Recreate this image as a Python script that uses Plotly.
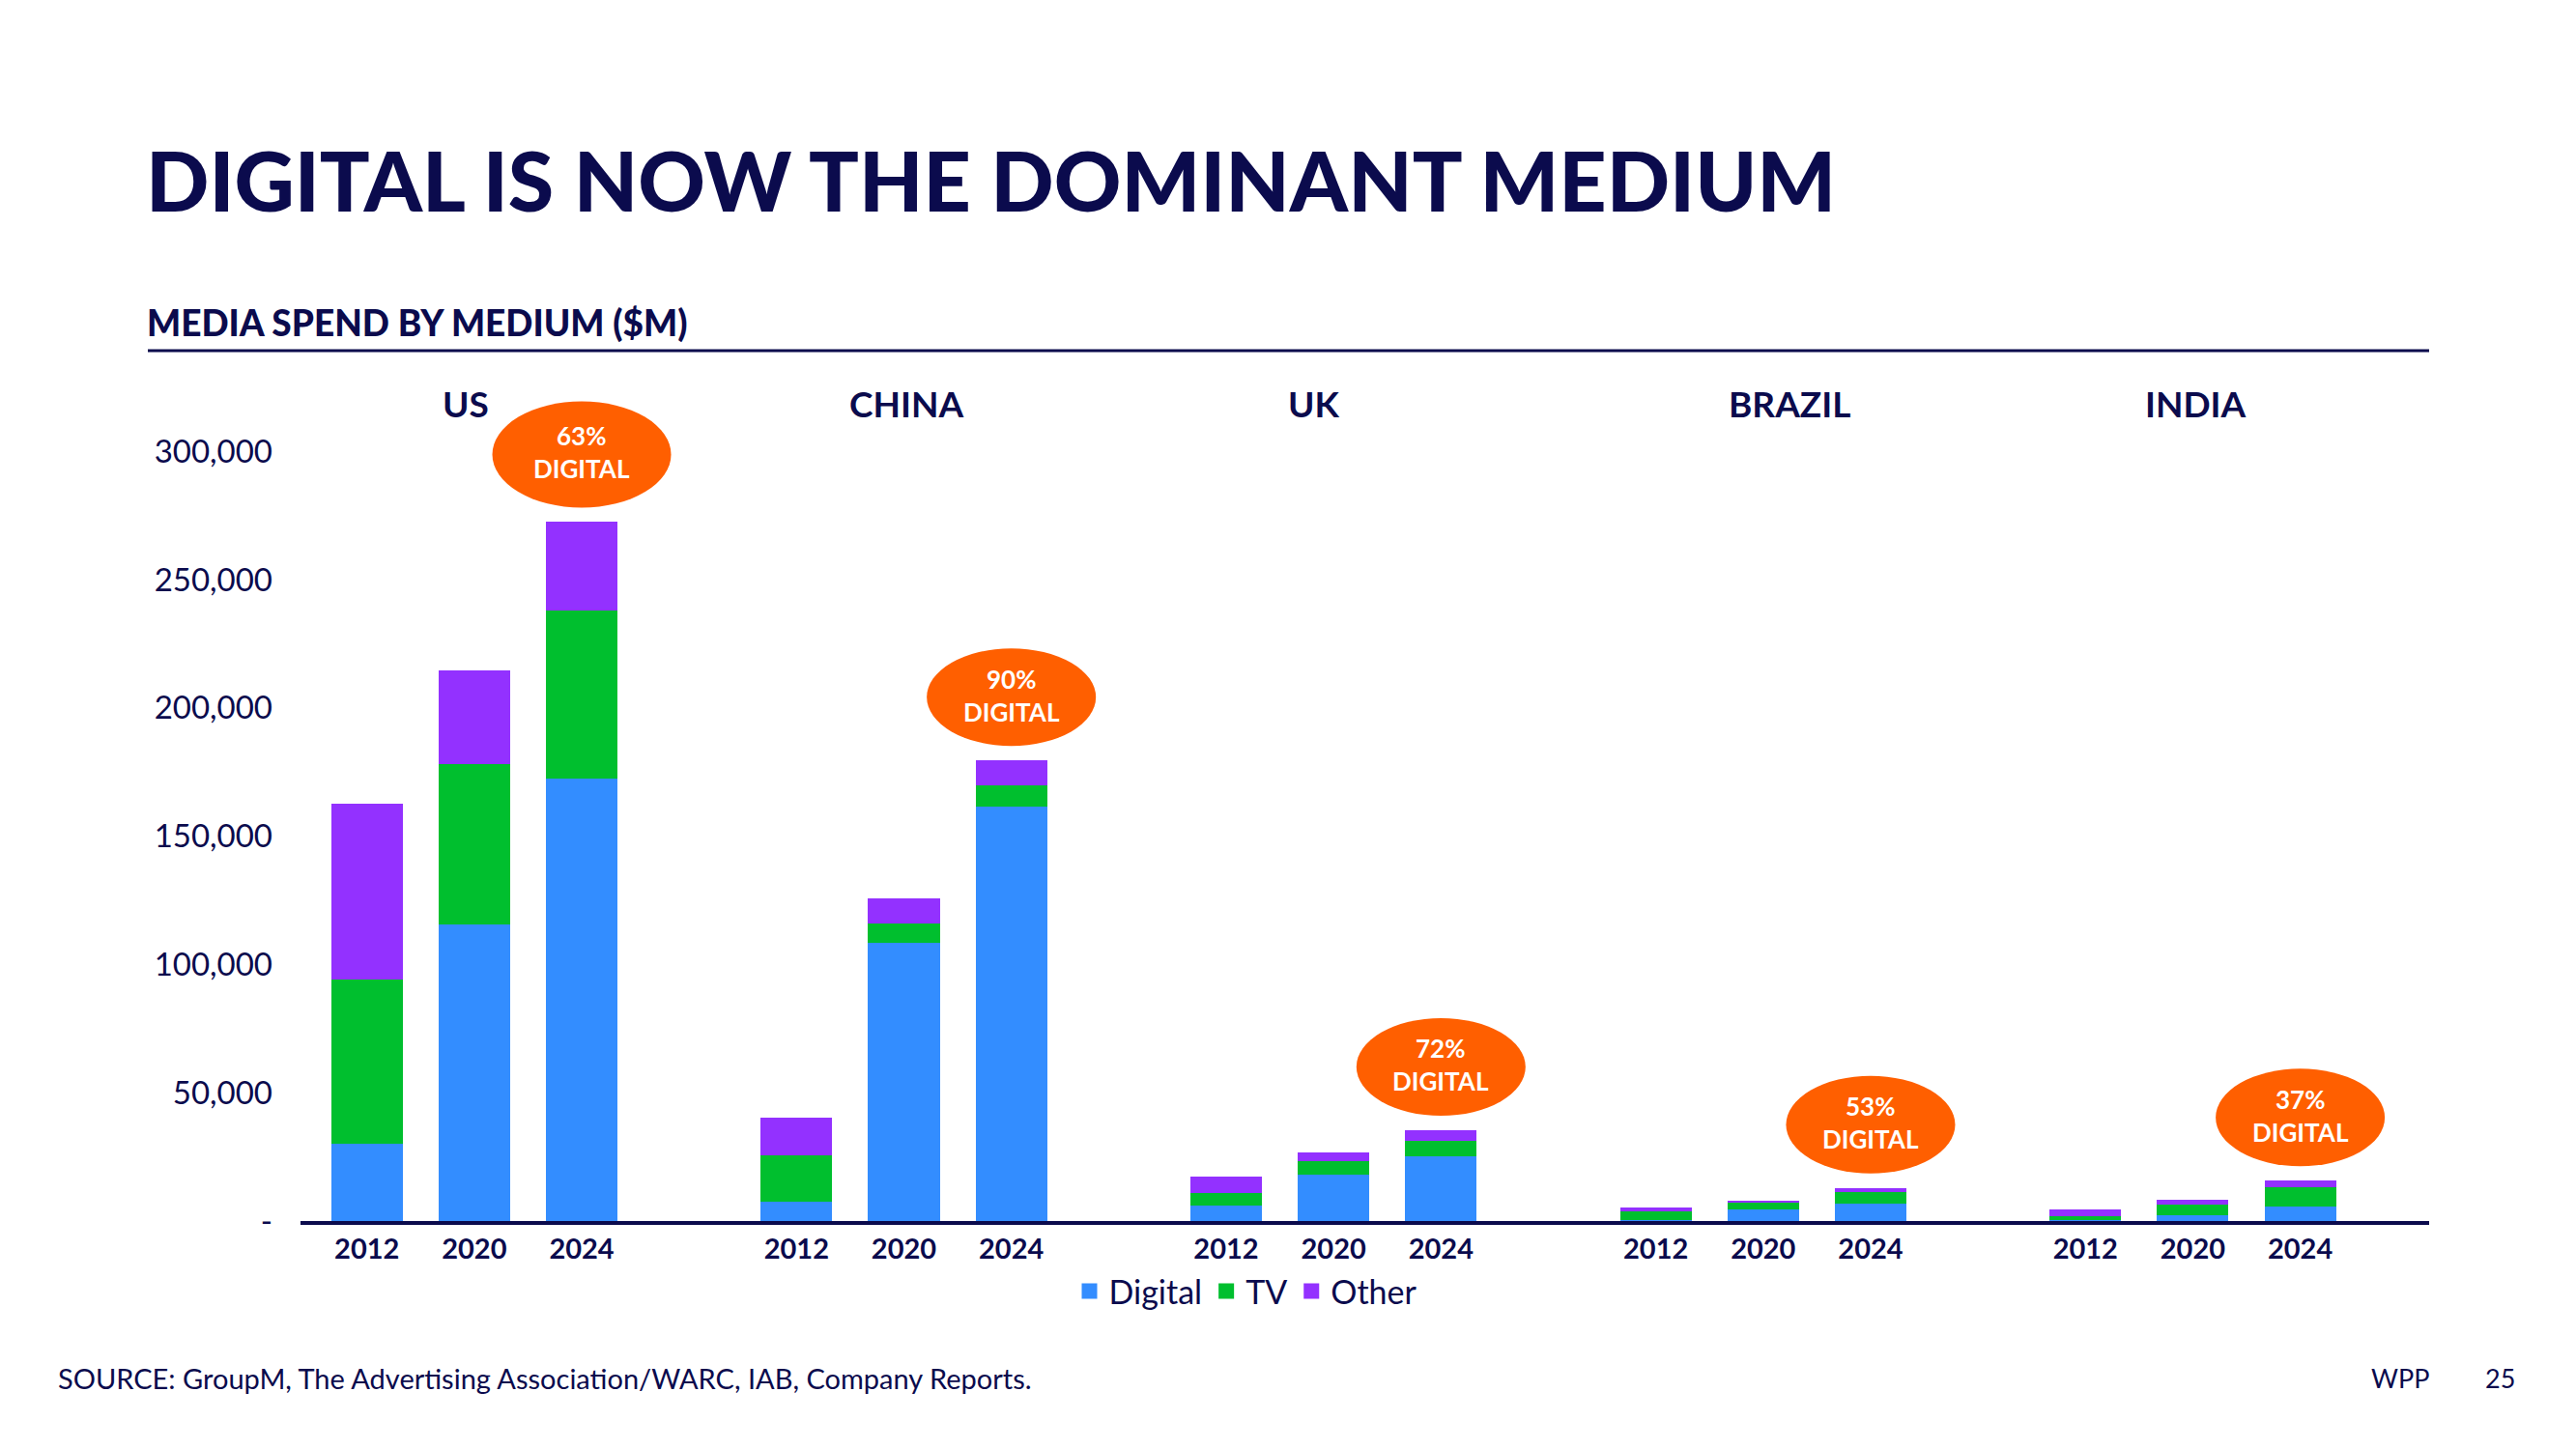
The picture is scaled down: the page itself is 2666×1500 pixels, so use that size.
import plotly.graph_objects as go

# ---------------- data ----------------
countries = ["US", "CHINA", "UK", "BRAZIL", "INDIA"]
years = ["2012", "2020", "2024"]
# values per country, per year ($M)
digital = [30100, 115400, 172400,
           7700, 108300, 161500,
           5900, 18200, 25400,
           400, 4400, 6800,
           300, 2260, 5800]
tv = [64100, 62800, 65400,
      17900, 7700, 8400,
      4900, 5050, 5700,
      3500, 2640, 4600,
      1450, 4020, 7300]
other = [68600, 36500, 34600,
         14800, 9600, 9600,
         6400, 3500, 4300,
         1380, 880, 1500,
         2770, 2010, 2600]
share_labels = ["63%", "90%", "72%", "53%", "37%"]
y_tickvals = [0, 50000, 100000, 150000, 200000, 250000, 300000]
y_ticktext = ["-", "50,000", "100,000", "150,000", "200,000", "250,000", "300,000"]

# ---------------- style ----------------
NAVY = "#0B0B4D"
BLUE = "#338DFF"
GREEN = "#00BF2E"
PURPLE = "#9331FF"
ORANGE = "#FF5F00"
FONT = "Lato"

W, H = 2666, 1500
L, R, T, B = 311, 152, 414, 236
PW, PH = W - L - R, H - T - B


def px_x(X):
    return (X - L) / PW


def px_y(Y):
    return (H - B - Y) / PH


n_years = len(years)
group_stride = n_years + 1
xpos = [g * group_stride + i for g in range(len(countries)) for i in range(n_years)]
xtext = [years[i] for g in range(len(countries)) for i in range(n_years)]
totals = [d + t + o for d, t, o in zip(digital, tv, other)]

fig = go.Figure()
for name, vals, col in [("Digital", digital, BLUE), ("TV", tv, GREEN), ("Other", other, PURPLE)]:
    fig.add_trace(go.Bar(x=xpos, y=vals, name=name, marker=dict(color=col, line=dict(width=0)),
                         width=0.666, showlegend=False, hoverinfo="y"))
    # legend proxy with larger square symbol
    fig.add_trace(go.Scatter(x=[None], y=[None], mode="markers", name=name,
                             marker=dict(symbol="square", size=16, color=col)))

# country headers
label_shift = [-9, 2, -21, 27, 3]
for g, c in enumerate(countries):
    fig.add_annotation(x=g * group_stride + 1, xref="x", y=px_y(417), yref="paper",
                       text=c, showarrow=False, xanchor="center", yanchor="middle",
                       xshift=label_shift[g],
                       font=dict(family=FONT, size=37, color=NAVY, weight=700))

# orange bubbles above last bar of each group
for g in range(len(countries)):
    idx = g * n_years + n_years - 1
    bw, bh = (185, 110) if g == 0 else (175, 101)
    gap = 15
    fig.add_shape(type="circle", xref="x", yref="y", xsizemode="pixel", ysizemode="pixel",
                  xanchor=xpos[idx], yanchor=totals[idx],
                  x0=-bw / 2, x1=bw / 2, y0=gap, y1=gap + bh,
                  fillcolor=ORANGE, line=dict(width=0), layer="above")
    fig.add_annotation(x=xpos[idx], y=totals[idx], xref="x", yref="y",
                       text=f"{share_labels[g]}<br>DIGITAL", showarrow=False,
                       yanchor="middle", xanchor="center", yshift=gap + bh / 2 + 2,
                       font=dict(family=FONT, size=26, color="white", weight=700))

# title & subtitle
fig.add_annotation(x=px_x(149), y=px_y(186), xref="paper", yref="paper",
                   text="DIGITAL IS NOW THE DOMINANT MEDIUM", showarrow=False,
                   xanchor="left", yanchor="middle",
                   font=dict(family=FONT, size=86, color=NAVY, weight=900))
fig.add_annotation(x=px_x(150), y=px_y(333), xref="paper", yref="paper",
                   text="MEDIA SPEND BY MEDIUM ($M)", showarrow=False,
                   xanchor="left", yanchor="middle",
                   font=dict(family=FONT, size=37, color=NAVY, weight=900))
fig.add_shape(type="line", xref="paper", yref="paper",
              x0=px_x(153), x1=px_x(2514), y0=px_y(363), y1=px_y(363),
              line=dict(color=NAVY, width=3))

# footer
fig.add_annotation(x=px_x(58), y=px_y(1426), xref="paper", yref="paper",
                   text="SOURCE: GroupM, The Advertising Association/WARC, IAB, Company Reports.",
                   showarrow=False, xanchor="left", yanchor="middle",
                   font=dict(family=FONT, size=29, color=NAVY))
fig.add_annotation(x=px_x(2516), y=px_y(1426), xref="paper", yref="paper",
                   text="WPP", showarrow=False, xanchor="right", yanchor="middle",
                   font=dict(family=FONT, size=27, color=NAVY))
fig.add_annotation(x=px_x(2605), y=px_y(1426), xref="paper", yref="paper",
                   text="25", showarrow=False, xanchor="right", yanchor="middle",
                   font=dict(family=FONT, size=27, color=NAVY))

fig.update_layout(
    width=W, height=H,
    margin=dict(l=L, r=R, t=T, b=B, autoexpand=False),
    paper_bgcolor="white", plot_bgcolor="white",
    barmode="stack", bargap=0,
    showlegend=True,
    legend=dict(orientation="h", x=px_x(1290), xanchor="center", y=px_y(1337), yanchor="middle",
                font=dict(family=FONT, size=34, color=NAVY), itemwidth=30,
                bgcolor="rgba(0,0,0,0)", traceorder="normal"),
    xaxis=dict(range=[-0.618, 19.2], tickmode="array", tickvals=xpos, ticktext=xtext,
               showgrid=False, zeroline=False, showline=True, linecolor=NAVY, linewidth=4,
               ticks="", ticklabelstandoff=0,
               tickfont=dict(family=FONT, size=29, color=NAVY, weight=700)),
    yaxis=dict(range=[0, 320000], tickmode="array", tickvals=y_tickvals, ticktext=y_ticktext,
               showgrid=False, zeroline=False, showline=False, ticks="",
               ticklabelstandoff=28,
               tickfont=dict(family=FONT, size=33, color=NAVY)),
)

fig.write_html("out.html", config={"displayModeBar": False},
               post_script="document.body.style.margin='0px';")
